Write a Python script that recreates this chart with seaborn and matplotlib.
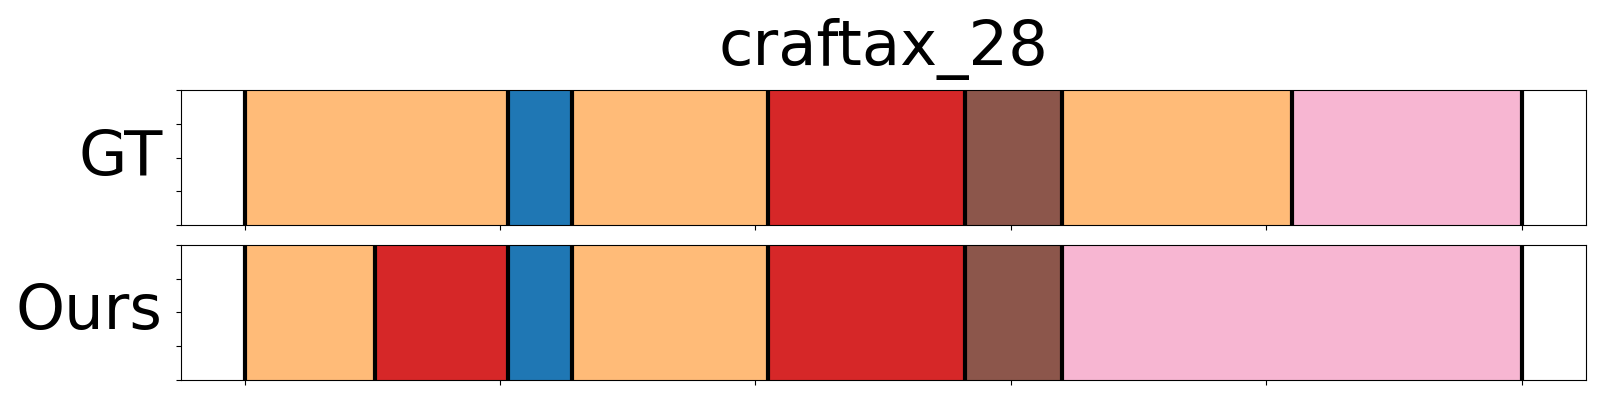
import matplotlib
matplotlib.use("Agg")
import matplotlib.pyplot as plt
import seaborn as sns

# segment boundaries (frame index) and the class of each segment
gt_bounds = [0, 103, 128, 205, 282, 320, 410, 500]
gt_classes = [3, 0, 3, 6, 10, 3, 13]
ours_bounds = [0, 51, 103, 128, 205, 282, 320, 500]
ours_classes = [3, 6, 0, 3, 6, 10, 13]
row_names = ["GT", "Ours"]
title = "craftax_28"

sns.set_style("ticks")
plt.rcParams["font.family"] = ["DejaVu Sans"]
plt.rcParams["text.color"] = "black"
plt.rcParams["axes.labelcolor"] = "black"
palette = sns.color_palette("tab20")

fig, axes = plt.subplots(2, 1, figsize=(16, 4), dpi=100)
fig.subplots_adjust(left=0.113, right=0.991, top=0.775, bottom=0.05, hspace=0.148)


def draw_row(ax, bounds, classes, name):
    starts = bounds[:-1]
    widths = [b - a for a, b in zip(bounds[:-1], bounds[1:])]
    colors = [palette[c] for c in classes]
    ax.bar(starts, [1] * len(starts), width=widths, align="edge",
           color=colors, edgecolor=colors, linewidth=0.5)
    ax.vlines(bounds, 0, 1, colors="black", linewidth=3)
    ax.set_ylim(0, 1)
    ax.set_xticks(range(0, 501, 100))
    ax.set_yticks([0, 0.25, 0.5, 0.75, 1])
    ax.set_xticklabels([])
    ax.set_yticklabels([])
    ax.set_ylabel(name, fontsize=45, rotation=0, ha="right", va="center",
                  color="black", labelpad=6)
    for s in ax.spines.values():
        s.set_color("black")
    ax.tick_params(colors="black")


draw_row(axes[0], gt_bounds, gt_classes, row_names[0])
draw_row(axes[1], ours_bounds, ours_classes, row_names[1])
axes[0].set_title(title, fontsize=45, pad=18, color="black")

plt.savefig("out.png")
